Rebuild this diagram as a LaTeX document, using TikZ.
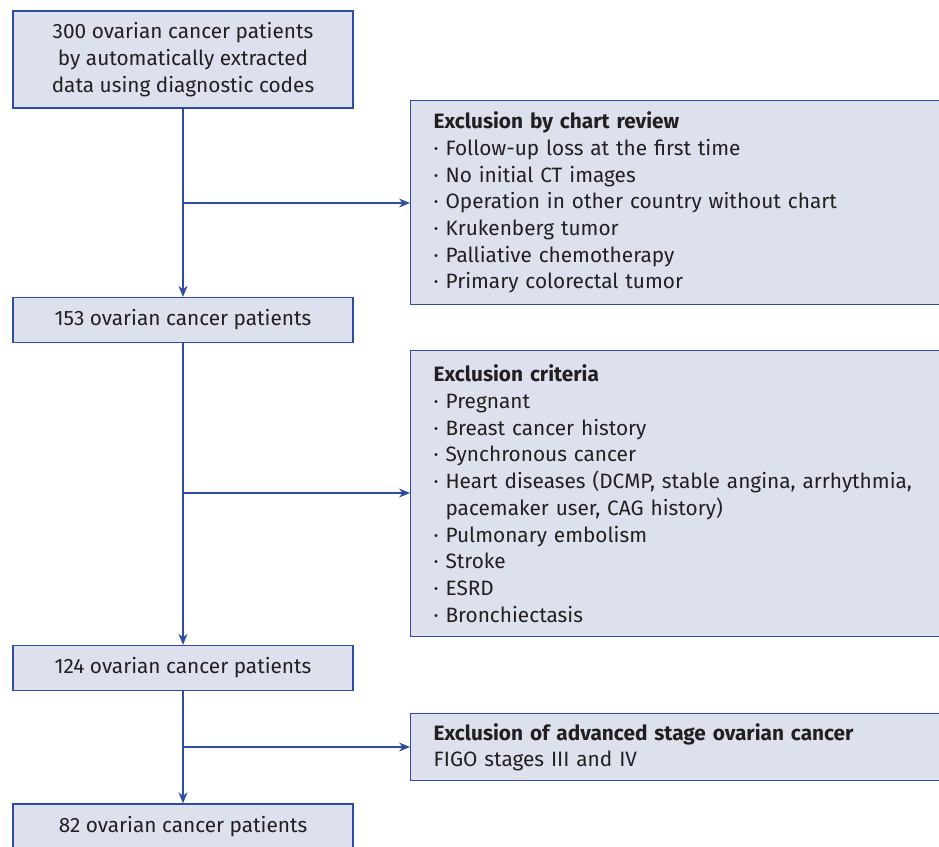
\documentclass[tikz,border=0pt]{standalone}
\usepackage{fontspec}
\setmainfont{Fira Sans}
\usetikzlibrary{arrows.meta}
\definecolor{boxfill}{HTML}{DDE1EE}
\definecolor{boxline}{HTML}{2E4BA6}
\definecolor{txt}{HTML}{231F20}
\tikzset{
  lbox/.style={draw=boxline, fill=boxfill, line width=1.3pt, minimum width=340pt, align=center, text=txt, font=\fontsize{20.8}{26.7}\selectfont, inner sep=0pt},
  rbox/.style={draw=boxline, fill=boxfill, line width=1.3pt, anchor=north west, text width=512pt, inner xsep=23pt, inner ysep=0pt, align=left, text=txt, font=\fontsize{20.8}{26.7}\selectfont},
  arr/.style={draw=boxline, line width=1.4pt, -{Stealth[length=11pt,width=9pt]}},
}
\newcommand{\ind}{\phantom{· }}
\begin{document}
\begin{tikzpicture}[x=1pt,y=-1pt]
\useasboundingbox (0,0) rectangle (939,846);
\node[lbox, minimum height=97pt] (b1) at (183,59.5) {300 ovarian cancer patients\\by automatically extracted\\data using diagnostic codes};
\node[lbox, minimum height=45pt] (b2) at (183,320) {153 ovarian cancer patients};
\node[lbox, minimum height=45pt] (b3) at (183,668) {124 ovarian cancer patients};
\node[lbox, minimum height=46pt] (b4) at (183,827) {82 ovarian cancer patients};
\node[rbox, minimum height=204pt] (r1) at (410,100) {{\bfseries Exclusion by chart review}\\
· Follow-up loss at the first time\\
· No initial CT images\\
· Operation in other country without chart\\
· Krukenberg tumor\\
· Palliative chemotherapy\\
· Primary colorectal tumor};
\node[rbox, minimum height=286pt] (r2) at (410,350) {{\bfseries Exclusion criteria}\\
· Pregnant\\
· Breast cancer history\\
· Synchronous cancer\\
· Heart diseases (DCMP, stable angina, arrhythmia,\\
\ind pacemaker user, CAG history)\\
· Pulmonary embolism\\
· Stroke\\
· ESRD\\
· Bronchiectasis};
\node[rbox, minimum height=67pt] (r3) at (410,713) {{\bfseries Exclusion of advanced stage ovarian cancer}\\
FIGO stages III and IV};
\coordinate (j1) at (183,203);
\coordinate (j2) at (183,493);
\coordinate (j3) at (183,747);
\draw[arr] (b1) -- (b2);
\draw[arr] (b2) -- (b3);
\draw[arr] (b3) -- (b4);
\draw[arr] (j1) -- (r1.west |- j1);
\draw[arr] (j2) -- (r2.west |- j2);
\draw[arr] (j3) -- (r3.west |- j3);
\end{tikzpicture}
\end{document}
